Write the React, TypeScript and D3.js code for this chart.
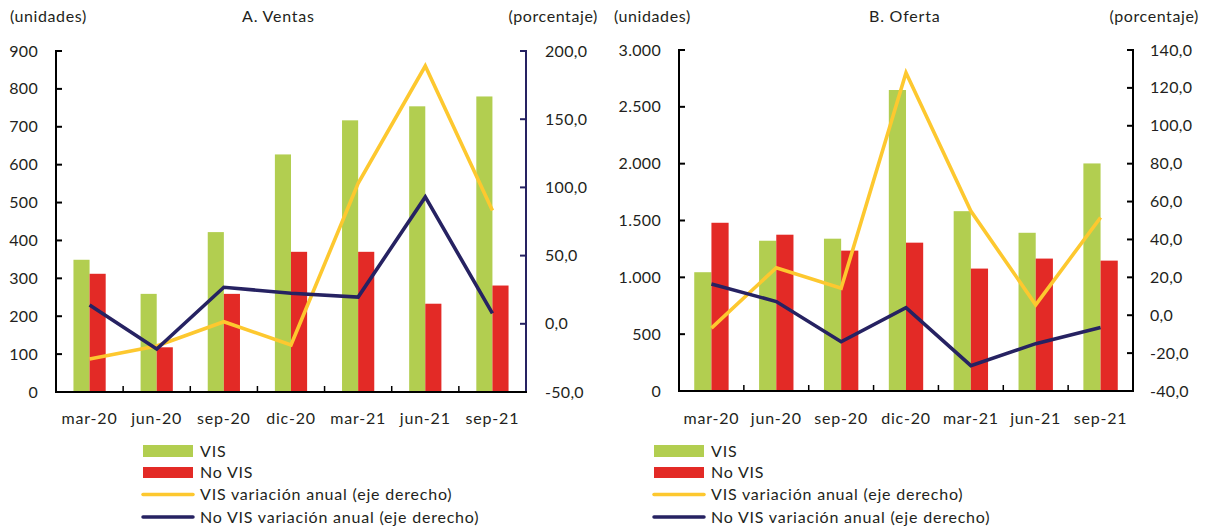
import React from "react";
import * as d3 from "d3";

const categories = ["mar-20", "jun-20", "sep-20", "dic-20", "mar-21", "jun-21", "sep-21"];

const ventasVIS = [349, 259, 422, 627, 717, 754, 780];
const ventasNoVIS = [312, 118, 259, 370, 370, 233, 281];
const ventasVISVar = [-25.8, -16.3, 1.5, -15.5, 103, 189, 83];
const ventasNoVISVar = [13.8, -18.5, 26.8, 22.4, 19.6, 93, 7.7];

const ofertaVIS = [1045, 1322, 1340, 2648, 1582, 1392, 2002];
const ofertaNoVIS = [1480, 1375, 1235, 1305, 1077, 1165, 1147];
const ofertaVISVar = [-6.8, 25.1, 14.2, 128, 55, 5.5, 51.6];
const ofertaNoVISVar = [16.5, 7.2, -14, 4, -26.6, -15, -6.5];

const ventasLeftTicks = [0, 100, 200, 300, 400, 500, 600, 700, 800, 900];
const ventasLeftLabels = ["0", "100", "200", "300", "400", "500", "600", "700", "800", "900"];
const ventasRightTicks = [-50, 0, 50, 100, 150, 200];
const ventasRightLabels = ["-50,0", "0,0", "50,0", "100,0", "150,0", "200,0"];

const ofertaLeftTicks = [0, 500, 1000, 1500, 2000, 2500, 3000];
const ofertaLeftLabels = ["0", "500", "1.000", "1.500", "2.000", "2.500", "3.000"];
const ofertaRightTicks = [-40, -20, 0, 20, 40, 60, 80, 100, 120, 140];
const ofertaRightLabels = ["-40,0", "-20,0", "0,0", "20,0", "40,0", "60,0", "80,0", "100,0", "120,0", "140,0"];

const legendLabels = ["VIS", "No VIS", "VIS variación anual (eje derecho)", "No VIS variación anual (eje derecho)"];

const GREEN = "#b2ce50";
const RED = "#e32a26";
const YELLOW = "#fdc82f";
const NAVY = "#262262";
const TEXT = "#231f20";
const FONT = "Lato, 'Open Sans', sans-serif";

type PanelProps = {
  title: string;
  x0: number; x1: number; y0: number; y1: number;
  titleX: number;
  leftTicks: number[]; leftLabels: string[];
  rightTicks: number[]; rightLabels: string[];
  vis: number[]; novis: number[]; visVar: number[]; novisVar: number[];
  barFrac: number;
  rightAxisColor: string;
  leftLabelEnd: number;
  rightLabelStart: number;
  unidadesX: number;
  porcentajeEnd: number;
  legendX: number;
};

function Panel(p: PanelProps) {
  const x = d3.scaleBand<string>().domain(categories).range([p.x0, p.x1]).padding(0);
  const yl = d3.scaleLinear().domain([p.leftTicks[0], p.leftTicks[p.leftTicks.length - 1]]).range([p.y1, p.y0]);
  const yr = d3.scaleLinear().domain([p.rightTicks[0], p.rightTicks[p.rightTicks.length - 1]]).range([p.y1, p.y0]);
  const bw = x.bandwidth() * p.barFrac;
  const cx = (c: string) => (x(c) as number) + x.bandwidth() / 2;
  const line = d3.line<number>().x((_, i) => cx(categories[i])).y((v) => yr(v));

  const legendRows = [451, 472.5, 494.5, 517];
  const ls = "0.8px";

  return (
    <g fontFamily={FONT} fill={TEXT}>
      <text x={p.unidadesX} y={22} fontSize={16} letterSpacing="0.6px">(unidades)</text>
      <text x={p.titleX} y={22} fontSize={16} letterSpacing={ls}>{p.title}</text>
      <text x={p.porcentajeEnd} y={22} fontSize={16} letterSpacing="0.6px" textAnchor="end">(porcentaje)</text>

      {/* bars */}
      {categories.map((c, i) => (
        <g key={c}>
          <rect x={cx(c) - bw} y={yl(p.vis[i])} width={bw} height={yl(0) - yl(p.vis[i])} fill={GREEN} />
          <rect x={cx(c)} y={yl(p.novis[i])} width={bw} height={yl(0) - yl(p.novis[i])} fill={RED} />
        </g>
      ))}

      {/* lines */}
      <path d={line(p.visVar) || ""} fill="none" stroke={YELLOW} strokeWidth={3.6} />
      <path d={line(p.novisVar) || ""} fill="none" stroke={NAVY} strokeWidth={3.6} />

      {/* left axis */}
      <line x1={p.x0} x2={p.x0} y1={p.y0 - 1} y2={p.y1} stroke="#000" strokeWidth={2} />
      {p.leftTicks.map((t, i) => (
        <g key={"l" + t}>
          <line x1={p.x0} x2={p.x0 + 6} y1={yl(t)} y2={yl(t)} stroke="#000" strokeWidth={2} />
          <text x={p.leftLabelEnd} y={yl(t)} dy="0.35em" textAnchor="end" fontSize={16} letterSpacing="0.3px">{p.leftLabels[i]}</text>
        </g>
      ))}

      {/* right axis */}
      <line x1={p.x1} x2={p.x1} y1={p.y0 - 1} y2={p.y1} stroke={p.rightAxisColor} strokeWidth={2} />
      {p.rightTicks.map((t, i) => (
        <g key={"r" + t}>
          <line x1={p.x1 - 6} x2={p.x1} y1={yr(t)} y2={yr(t)} stroke={p.rightAxisColor} strokeWidth={2} />
          <text x={p.rightLabelStart} y={yr(t)} dy="0.35em" fontSize={16} letterSpacing="0.3px">{p.rightLabels[i]}</text>
        </g>
      ))}

      {/* x axis */}
      <line x1={p.x0 - 1} x2={p.x1 + 1} y1={p.y1} y2={p.y1} stroke="#000" strokeWidth={2} />
      {categories.slice(1).map((c) => (
        <line key={"t" + c} x1={x(c) as number} x2={x(c) as number} y1={p.y1} y2={p.y1 - 6} stroke="#000" strokeWidth={1.5} />
      ))}
      {categories.map((c) => (
        <text key={"x" + c} x={cx(c)} y={424} textAnchor="middle" fontSize={16} letterSpacing={ls}>{c}</text>
      ))}

      {/* legend */}
      <rect x={p.legendX} y={legendRows[0] - 6} width={50} height={12} fill={GREEN} />
      <rect x={p.legendX} y={legendRows[1] - 5.5} width={50} height={11} fill={RED} />
      <line x1={p.legendX} x2={p.legendX + 50} y1={legendRows[2]} y2={legendRows[2]} stroke={YELLOW} strokeWidth={3.5} strokeLinecap="round" />
      <line x1={p.legendX} x2={p.legendX + 50} y1={legendRows[3]} y2={legendRows[3]} stroke={NAVY} strokeWidth={3.5} strokeLinecap="round" />
      {legendLabels.map((l, i) => (
        <text key={l} x={p.legendX + 57} y={legendRows[i]} dy="0.36em" fontSize={16} letterSpacing={ls}>{l}</text>
      ))}
    </g>
  );
}

export default function App() {
  return (
    <svg width={1207} height={531} style={{ position: "absolute", left: 0, top: 0, background: "#fff" }}>
      <rect width={1207} height={531} fill="#fff" />
      <Panel
        title="A. Ventas"
        x0={56} x1={526} y0={51} y1={392}
        titleX={242}
        leftTicks={ventasLeftTicks} leftLabels={ventasLeftLabels}
        rightTicks={ventasRightTicks} rightLabels={ventasRightLabels}
        vis={ventasVIS} novis={ventasNoVIS} visVar={ventasVISVar} novisVar={ventasNoVISVar}
        barFrac={0.24}
        rightAxisColor={NAVY}
        leftLabelEnd={38}
        rightLabelStart={545}
        unidadesX={10}
        porcentajeEnd={598}
        legendX={143}
      />
      <Panel
        title="B. Oferta"
        x0={679} x1={1133} y0={50} y1={391}
        titleX={869}
        leftTicks={ofertaLeftTicks} leftLabels={ofertaLeftLabels}
        rightTicks={ofertaRightTicks} rightLabels={ofertaRightLabels}
        vis={ofertaVIS} novis={ofertaNoVIS} visVar={ofertaVISVar} novisVar={ofertaNoVISVar}
        barFrac={0.265}
        rightAxisColor="#000"
        leftLabelEnd={661}
        rightLabelStart={1150}
        unidadesX={614}
        porcentajeEnd={1199}
        legendX={654}
      />
    </svg>
  );
}
